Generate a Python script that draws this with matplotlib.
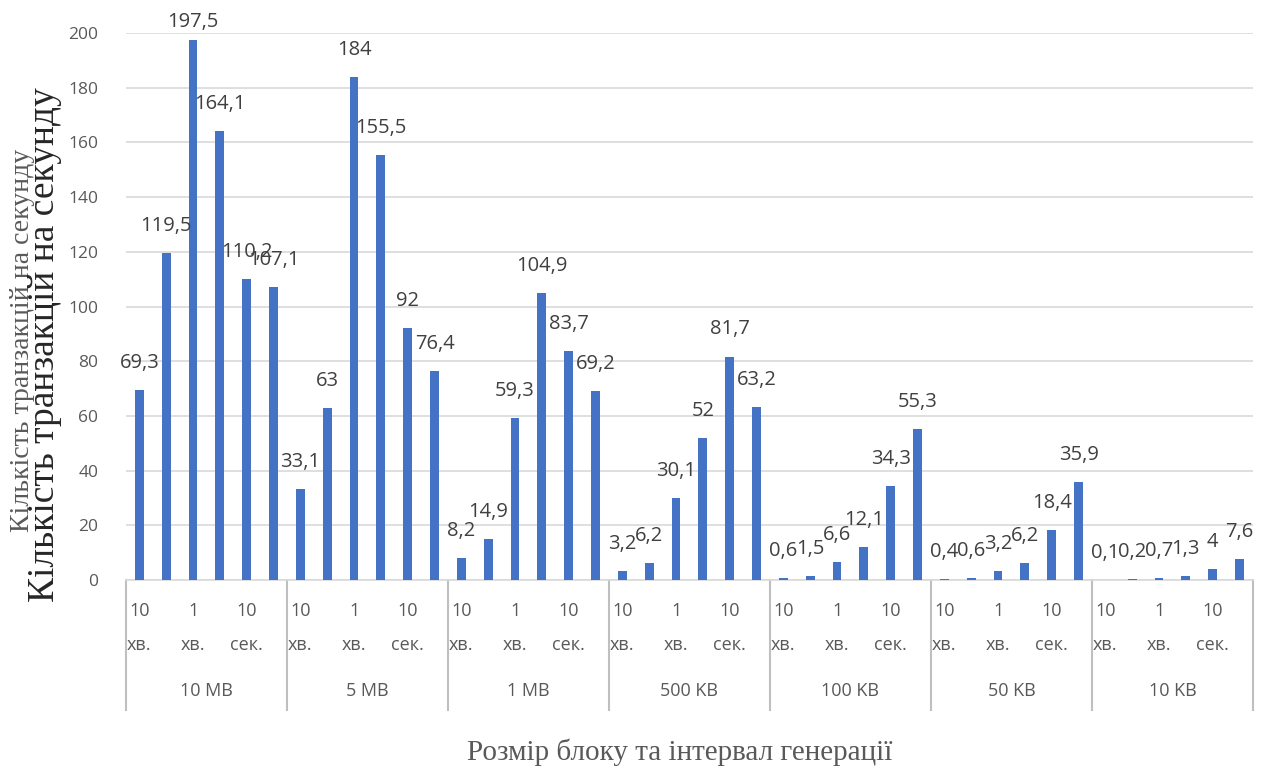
import matplotlib
matplotlib.use("Agg")
import matplotlib.pyplot as plt
import matplotlib.transforms as mtransforms
import numpy as np

# data
groups = ["10 MB", "5 MB", "1 MB", "500 KB", "100 KB", "50 KB", "10 KB"]
intervals = ["10\nхв.", "", "1\nхв.", "", "10\nсек.", ""]
tps_10mb = [69.3, 119.5, 197.5, 164.1, 110.2, 107.1]
tps_5mb = [33.1, 63, 184, 155.5, 92, 76.4]
tps_1mb = [8.2, 14.9, 59.3, 104.9, 83.7, 69.2]
tps_500kb = [3.2, 6.2, 30.1, 52, 81.7, 63.2]
tps_100kb = [0.6, 1.5, 6.6, 12.1, 34.3, 55.3]
tps_50kb = [0.4, 0.6, 3.2, 6.2, 18.4, 35.9]
tps_10kb = [0.1, 0.2, 0.7, 1.3, 4, 7.6]
y_ticks = [0, 20, 40, 60, 80, 100, 120, 140, 160, 180, 200]

values = tps_10mb + tps_5mb + tps_1mb + tps_500kb + tps_100kb + tps_50kb + tps_10kb
n = len(intervals)
x = np.arange(len(values))

fig = plt.figure(figsize=(12.7, 7.71), dpi=100)
ax = fig.add_axes([0.0992, 0.2477, 0.8874, 0.7095])

ax.bar(x, values, width=0.33, color="#4472C4", zorder=3)

# data labels (kept inside the chart area at the top, like Excel does)
for xi, v in zip(x, values):
    ax.text(xi, min(v + 9.9, 204), ("%g" % v).replace(".", ","), ha="center", va="center",
            fontsize=14.5, family="Open Sans", color="#404040", clip_on=False)

ax.set_xlim(-0.5, len(values) - 0.5)
ax.set_ylim(0, 200)
ax.set_yticks(y_ticks)
ax.set_yticklabels([str(t) for t in y_ticks], family="Open Sans", fontsize=12.5, color="#595959")
ax.tick_params(axis="y", length=0, pad=20)
ax.set_xticks([])
ax.grid(axis="y", color="#d9d9d9", lw=1.2, zorder=0)
for s in ["top", "right", "left"]:
    ax.spines[s].set_visible(False)
ax.spines["bottom"].set_color("#d9d9d9")
ax.spines["bottom"].set_linewidth(1.2)

# multi-level category axis
trans = mtransforms.blended_transform_factory(ax.transData, ax.transAxes)
for g, name in enumerate(groups):
    for i, lab in enumerate(intervals):
        if lab:
            ax.text(g * n + i, -0.088, lab, transform=trans, ha="center", va="center",
                    fontsize=13, family="Open Sans", color="#595959", linespacing=2.1)
    ax.text(g * n + (n - 1) / 2, -0.203, name, transform=trans, ha="center", va="center",
            fontsize=13, family="Open Sans", color="#595959")
for b in range(len(groups) + 1):
    ax.plot([b * n - 0.5, b * n - 0.5], [0, -0.238], transform=trans, color="#bfbfbf",
            lw=1.5, clip_on=False)

# axis titles (two overlapping, as in the original)
fig.text(0.0180, 0.558, "Кількість транзакцій на секунду", rotation=90, ha="center", va="center",
         family="Liberation Serif", fontsize=20, color="#595959")
fig.text(0.0350, 0.553, "Кількість транзакцій на секунду", rotation=90, ha="center", va="center",
         family="Liberation Serif", fontsize=27, color="#262626")
fig.text(0.535, 0.0246, "Розмір блоку та інтервал генерації", ha="center", va="center",
         family="Liberation Serif", fontsize=21, color="#595959")

fig.savefig("out.png", dpi=100)
